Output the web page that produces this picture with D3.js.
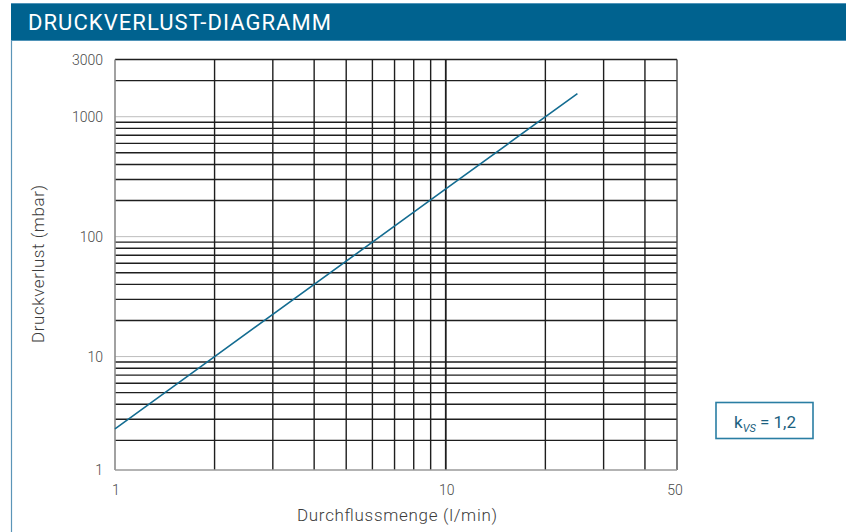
<!DOCTYPE html>
<html>
<head>
<meta charset="utf-8">
<script src="https://cdn.jsdelivr.net/npm/d3@7"></script>
<style>
  body { margin: 0; background: #fff; }
  svg { display: block; font-family: Roboto, "Noto Sans", sans-serif; }
</style>
</head>
<body>
<script>
// Flow (l/min) vs. pressure loss (mbar)
const flow = [1, 2, 10, 25];
const pressure = [2.5, 10, 250, 1560];

const xGridValues = [2, 3, 4, 5, 6, 7, 8, 9, 10, 20, 30, 40, 50];
const yGridBlack = [2, 3, 4, 5, 6, 7, 8, 9, 20, 30, 40, 50, 60, 70, 80, 90,
                    200, 300, 400, 500, 600, 700, 800, 900, 2000, 3000];
const yGridGray = [10, 100, 1000];
const xTickLabels = [1, 10, 50];
const yTickLabels = [3000, 1000, 100, 10];

const width = 846;
const height = 532;
const plotLeft = 115;
const plotRight = 677;
const plotBottom = 470;

const x = d3.scaleLog().domain([1, 50]).range([plotLeft, plotRight]);
// decades are ~120px apart; the bottom edge of the chart sits a little above 1
const y = d3.scaleLog().domain([1, 3000]).range([476.5, 59.5]);

const svg = d3.select("body").append("svg")
    .attr("width", width)
    .attr("height", height);

// header bar
svg.append("rect")
    .attr("x", 11).attr("y", 3)
    .attr("width", width - 11).attr("height", 38)
    .attr("fill", "#00628f");
svg.append("line")
    .attr("x1", 11).attr("x2", width).attr("y1", 3.5).attr("y2", 3.5)
    .attr("stroke", "#4f93b8").attr("stroke-width", 1);
svg.append("line")
    .attr("x1", 11).attr("x2", width).attr("y1", 40.5).attr("y2", 40.5)
    .attr("stroke", "#4f93b8").attr("stroke-width", 1);
svg.append("line")
    .attr("x1", 11.5).attr("x2", 11.5).attr("y1", 40).attr("y2", height)
    .attr("stroke", "#5b95b8").attr("stroke-width", 1.2);
svg.append("text")
    .attr("x", 28).attr("y", 29.5)
    .attr("fill", "#fff")
    .style("font-size", "22px")
    .style("font-weight", 400)
    .attr("textLength", 303)
    .attr("lengthAdjust", "spacing")
    .text("DRUCKVERLUST-DIAGRAMM");

// horizontal grid
svg.append("g")
    .selectAll("line")
    .data(yGridGray)
    .join("line")
    .attr("x1", plotLeft).attr("x2", plotRight)
    .attr("y1", d => y(d)).attr("y2", d => y(d))
    .attr("stroke", "#bdbdbd").attr("stroke-width", 1);

svg.append("g")
    .selectAll("line")
    .data(yGridBlack)
    .join("line")
    .attr("x1", plotLeft).attr("x2", plotRight)
    .attr("y1", d => y(d)).attr("y2", d => y(d))
    .attr("stroke", "#1e1e1e").attr("stroke-width", 1.4);

// vertical grid
svg.append("g")
    .selectAll("line")
    .data(xGridValues)
    .join("line")
    .attr("x1", d => x(d)).attr("x2", d => x(d))
    .attr("y1", y(3000)).attr("y2", plotBottom)
    .attr("stroke", d => d === 50 ? "#444" : "#1e1e1e")
    .attr("stroke-width", d => d === 10 ? 1.8 : 1.4);

// axes
svg.append("line")
    .attr("x1", plotLeft).attr("x2", plotLeft)
    .attr("y1", y(3000)).attr("y2", plotBottom)
    .attr("stroke", "#8a8a8a").attr("stroke-width", 1.6);
svg.append("line")
    .attr("x1", plotLeft).attr("x2", plotRight)
    .attr("y1", plotBottom).attr("y2", plotBottom)
    .attr("stroke", "#9a9a9a").attr("stroke-width", 1.4);

// pressure loss line
const pts = flow.map((f, i) => [f, pressure[i]]);
svg.append("path")
    .datum(pts)
    .attr("fill", "none")
    .attr("stroke", "#136c91")
    .attr("stroke-width", 1.6)
    .attr("d", d3.line().x(d => x(d[0])).y(d => y(d[1])));

// tick labels
const labelStyle = g => g
    .attr("fill", "#4a4a4a")
    .style("font-size", "14px")
    .style("font-weight", 300);

svg.append("g").call(labelStyle)
    .selectAll("text")
    .data(yTickLabels)
    .join("text")
    .attr("x", 103)
    .attr("y", d => y(d) + 5)
    .attr("text-anchor", "end")
    .text(d => d);
svg.append("text").call(labelStyle)
    .attr("x", 103).attr("y", plotBottom + 5)
    .attr("text-anchor", "end")
    .text("1");

svg.append("g").call(labelStyle)
    .selectAll("text")
    .data(xTickLabels)
    .join("text")
    .attr("x", d => x(d) + (d === 50 ? -2 : 1))
    .attr("y", 495)
    .attr("text-anchor", "middle")
    .text(d => d);

// axis titles
svg.append("text")
    .attr("x", (plotLeft + plotRight) / 2 + 1)
    .attr("y", 521)
    .attr("text-anchor", "middle")
    .attr("fill", "#3c3c3c")
    .style("font-size", "17px")
    .style("font-weight", 300)
    .attr("textLength", 200)
    .text("Durchflussmenge (l/min)");

svg.append("text")
    .attr("transform", "translate(44,264) rotate(-90)")
    .attr("text-anchor", "middle")
    .attr("fill", "#3c3c3c")
    .style("font-size", "17px")
    .style("font-weight", 300)
    .attr("textLength", 158)
    .text("Druckverlust (mbar)");

// kvs box
svg.append("rect")
    .attr("x", 716).attr("y", 402.5)
    .attr("width", 97).attr("height", 36)
    .attr("fill", "#fff")
    .attr("stroke", "#2a7ea3").attr("stroke-width", 1.6);
const kvs = svg.append("text")
    .attr("x", 765).attr("y", 428)
    .attr("text-anchor", "middle")
    .attr("fill", "#1b5f80")
    .style("font-size", "17px")
    .style("font-weight", 400);
kvs.append("tspan").text("k");
kvs.append("tspan").attr("dy", 4).style("font-size", "11px").style("font-style", "italic").text("VS");
kvs.append("tspan").attr("dy", -4).text(" = 1,2");
</script>
</body>
</html>
